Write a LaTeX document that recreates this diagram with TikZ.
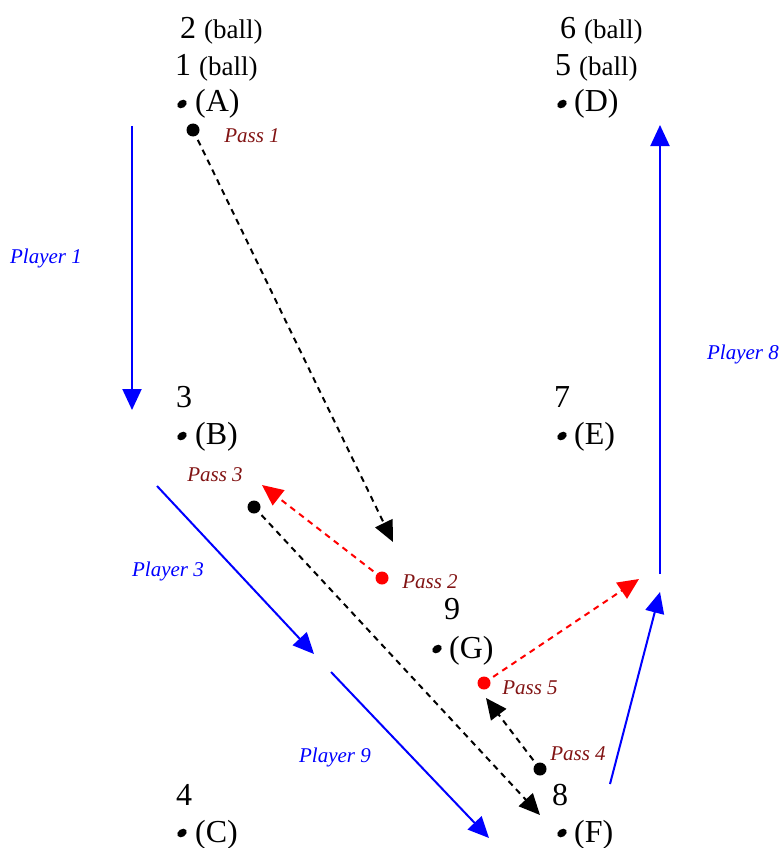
\documentclass[tikz,border=0pt]{standalone}
\usepackage{fontspec}
\setmainfont{Liberation Serif}
\usetikzlibrary{arrows.meta}
\definecolor{passred}{RGB}{130,20,20}
\definecolor{pblue}{RGB}{0,0,255}
\definecolor{pred}{RGB}{255,0,0}
\tikzset{
  big/.style={font=\fontsize{32}{36}\selectfont, inner sep=0pt, anchor=base west},
  num/.style={font=\fontsize{32}{36}\selectfont, inner sep=0pt, anchor=base west},
  plab/.style={font=\fontsize{21}{25}\selectfont\itshape, text=pblue, inner sep=0pt},
  passlab/.style={font=\fontsize{21}{25}\selectfont\itshape, text=passred, inner sep=0pt},
  tip/.style={-{Triangle[length=21pt,width=19pt]}},
  runline/.style={draw=pblue, line width=2pt, tip, pblue},
  blackpass/.style={draw=black, line width=2pt, dash pattern=on 6pt off 5pt, tip},
  redpass/.style={draw=pred, line width=2pt, dash pattern=on 6pt off 5pt, tip, pred},
  dotb/.style={circle, fill=black, inner sep=0pt, minimum size=13pt},
  dotr/.style={circle, fill=pred, inner sep=0pt, minimum size=13pt},
}
\newcommand{\smallbull}[1]{\fill[rotate around={35:#1}] #1 ellipse (5.2pt and 3.8pt);}
\newcommand{\ball}{{\fontsize{27}{30}\selectfont (ball)}}
\begin{document}
\begin{tikzpicture}[x=1pt,y=-1pt]
\useasboundingbox (0,0) rectangle (782,848);
% position labels
\node[num] (n2) at (180,39) {2 \ball};
\node[num] (n1) at (175,76) {1 \ball};
\smallbull{(182,104)}
\node[big] (A) at (195,112) {(A)};
\node[num] (n6) at (560,39) {6 \ball};
\node[num] (n5) at (555,76) {5 \ball};
\smallbull{(562,104)}
\node[big] (D) at (574,112) {(D)};
\node[num] (n3) at (176,407) {3};
\smallbull{(182,436)}
\node[big] (B) at (195,444) {(B)};
\node[num] (n7) at (554,407) {7};
\smallbull{(562,436)}
\node[big] (E) at (574,444) {(E)};
\node[num] (n9) at (444,619) {9};
\smallbull{(437,649)}
\node[big] (G) at (449,658) {(G)};
\node[num] (n4) at (176,805) {4};
\smallbull{(182,833)}
\node[big] (C) at (195,842) {(C)};
\node[num] (n8) at (552,805) {8};
\smallbull{(562,833)}
\node[big] (F) at (574,842) {(F)};

% player runs
\coordinate (p1s) at (132,126); \coordinate (p1e) at (132,410);
\draw[runline] (p1s) -- (p1e);
\node[plab] (lp1) at (46,258) {Player 1};
\coordinate (p8s) at (660,574); \coordinate (p8e) at (660,125);
\draw[runline] (p8s) -- (p8e);
\node[plab] (lp8) at (743,354) {Player 8};
\coordinate (p3s) at (157,486); \coordinate (p3e) at (314,654);
\draw[runline] (p3s) -- (p3e);
\node[plab] (lp3) at (168,571) {Player 3};
\coordinate (p9s) at (331,672); \coordinate (p9e) at (489,838);
\draw[runline] (p9s) -- (p9e);
\node[plab] (lp9) at (335,757) {Player 9};
\coordinate (pfs) at (610,784); \coordinate (pfe) at (660,592);
\draw[runline] (pfs) -- (pfe);

% passes
\node[dotb] (d1) at (193,130) {};
\coordinate (e1) at (393,542);
\draw[blackpass] (d1.center) -- (e1);
\node[passlab] (lpass1) at (252,136) {Pass 1};

\node[dotr] (d2) at (382,578) {};
\coordinate (e2) at (262,485);
\draw[redpass] (d2.center) -- (e2);
\node[passlab] (lpass2) at (430,582) {Pass 2};
\node[passlab] (lpass3) at (215,475) {Pass 3};

\node[dotb] (d3) at (254,507) {};
\coordinate (e3) at (540,815);
\draw[blackpass] (d3.center) -- (e3);

\node[dotb] (d4) at (540,769) {};
\coordinate (e4) at (486,698);
\draw[blackpass] (d4.center) -- (e4);
\node[passlab] (lpass4) at (578,754) {Pass 4};

\node[dotr] (d5) at (484,683) {};
\coordinate (e5) at (639,579);
\draw[redpass] (d5.center) -- (e5);
\node[passlab] (lpass5) at (530,688) {Pass 5};
\end{tikzpicture}
\end{document}
